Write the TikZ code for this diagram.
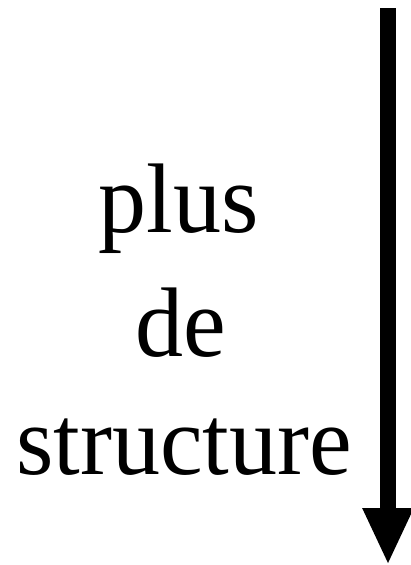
\documentclass[tikz,border=0pt]{standalone}
\usepackage{fontspec}
\setmainfont{Liberation Serif}
\usetikzlibrary{arrows.meta}
\tikzset{
  bigword/.style={font=\fontsize{96pt}{110pt}\selectfont, anchor=base, inner sep=0pt, yscale=1.03},
  bigarrow/.style={line width=16pt, -{Triangle[length=57pt,width=47pt]}}
}
\begin{document}
\begin{tikzpicture}[x=1pt,y=1pt]
\useasboundingbox (0,0) rectangle (411,-565);
\node[bigword] (w1) at (179,-232) {plus};
\node[bigword] (w2) at (181,-356) {de};
\node[bigword] (w3) at (184,-474) {structure};
\coordinate (top) at (388,-8);
\coordinate (bot) at (388,-565);
\draw[bigarrow] (top) -- (bot);
\end{tikzpicture}
\end{document}
